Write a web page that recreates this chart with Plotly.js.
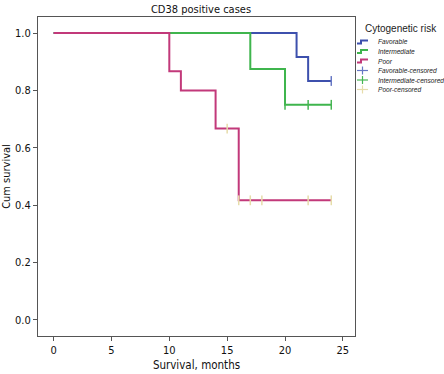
<!DOCTYPE html>
<html>
<head>
<meta charset="utf-8">
<script src="https://cdn.plot.ly/plotly-3.0.1.min.js"></script>
<style>html,body{margin:0;padding:0;background:#fff;}#chart{width:444px;height:374px;}</style>
</head>
<body>
<div id="chart"></div>
<script>
// Kaplan–Meier step data (months, cumulative survival)
const favTime = [0, 21, 22, 24];
const favSurv = [1.0, 0.917, 0.833, 0.833];
const intTime = [0, 17, 20, 24];
const intSurv = [1.0, 0.875, 0.75, 0.75];
const poorTime = [0, 10, 11, 14, 16, 24];
const poorSurv = [1.0, 0.867, 0.8, 0.667, 0.417, 0.417];
// censored observations
const favCensTime = [24];
const favCensSurv = [0.833];
const intCensTime = [20, 22, 24];
const intCensSurv = [0.75, 0.75, 0.75];
const poorCensTime = [15, 16, 17, 18, 22, 24];
const poorCensSurv = [0.667, 0.417, 0.417, 0.417, 0.417, 0.417];
// labels
const seriesNames = ["Favorable", "Intermediate", "Poor", "Favorable-censored", "Intermediate-censored", "Poor-censored"];
const legendTitle = "Cytogenetic risk";
const xTicks = [0, 5, 10, 15, 20, 25];
const yTicks = [0.0, 0.2, 0.4, 0.6, 0.8, 1.0];

const colors = ["#3d50ad", "#3fb54d", "#c2397a", "#6677c4", "#45b552", "#e6dcaa"];
const NARROW = "'DejaVu Sans Condensed', 'Liberation Sans Narrow', sans-serif";

function stepTrace(x, y, c, name) {
  return {x: x, y: y, type: "scatter", mode: "lines", name: name,
    line: {shape: "hv", color: c, width: 2}, hoverinfo: "skip"};
}
function censTrace(x, y, c, name) {
  return {x: x, y: y, type: "scatter", mode: "markers", name: name,
    marker: {symbol: "line-ns", size: 7, line: {color: c, width: 1.5}}, hoverinfo: "skip"};
}
const data = [
  stepTrace(favTime, favSurv, colors[0], seriesNames[0]),
  stepTrace(intTime, intSurv, colors[1], seriesNames[1]),
  stepTrace(poorTime, poorSurv, colors[2], seriesNames[2]),
  censTrace(favCensTime, favCensSurv, colors[3], seriesNames[3]),
  censTrace(intCensTime, intCensSurv, colors[4], seriesNames[4]),
  censTrace(poorCensTime, poorCensSurv, colors[5], seriesNames[5])
];

// plot area in pixels
const L = 38, R = 355, T = 17, B = 336;
const px = v => (v - L) / (R - L);
const py = v => (B - v) / (B - T);

const shapes = [], annotations = [];
annotations.push({xref: "paper", yref: "paper", x: px(363), y: py(29), xanchor: "left", yanchor: "middle",
  text: legendTitle, showarrow: false, font: {family: "'Liberation Sans', Arial, sans-serif", size: 10, color: "#222"}});
seriesNames.forEach((n, i) => {
  const yc = 42 + i * 9.5;
  if (i < 3) {
    shapes.push({type: "path", xref: "paper", yref: "paper",
      path: `M ${px(357)} ${py(yc + 1.5)} L ${px(361)} ${py(yc + 1.5)} L ${px(361)} ${py(yc - 1.5)} L ${px(368)} ${py(yc - 1.5)}`,
      line: {color: colors[i], width: 2}});
  } else {
    shapes.push({type: "line", xref: "paper", yref: "paper", x0: px(357), x1: px(368), y0: py(yc), y1: py(yc),
      line: {color: colors[i], width: 1.2}});
    shapes.push({type: "line", xref: "paper", yref: "paper", x0: px(362.5), x1: px(362.5), y0: py(yc - 4), y1: py(yc + 4),
      line: {color: colors[i], width: 1.2}});
  }
  annotations.push({xref: "paper", yref: "paper", x: px(376), y: py(yc), xanchor: "left", yanchor: "middle",
    text: "<i>" + n + "</i>", showarrow: false, font: {family: "'Liberation Sans', Arial, sans-serif", size: 6.6, color: "#222"}});
});

const layout = {
  width: 444, height: 374,
  margin: {l: L, r: 444 - R, t: T, b: 374 - B, pad: 0},
  paper_bgcolor: "#fff", plot_bgcolor: "#fff",
  showlegend: false,
  title: {text: "CD38 positive cases", x: 201 / 444, xanchor: "center", xref: "container",
    y: 1 - 9 / 374, yanchor: "middle", yref: "container",
    font: {family: NARROW, size: 11, color: "#111"}},
  xaxis: {range: [-1.35, 26.05], tickvals: xTicks, ticktext: xTicks.map(String),
    showgrid: false, zeroline: false, showline: true, mirror: true, linecolor: "#555", linewidth: 1,
    ticks: "outside", ticklen: 4, tickcolor: "#555", tickfont: {family: NARROW, size: 11, color: "#111"},
    title: {text: "Survival, months", standoff: 4, font: {family: NARROW, size: 11.5, color: "#111"}}},
  yaxis: {range: [-0.056, 1.056], tickvals: yTicks, tickformat: ".1f",
    showgrid: false, zeroline: false, showline: true, mirror: true, linecolor: "#555", linewidth: 1,
    ticks: "outside", ticklen: 4, tickcolor: "#555", tickfont: {family: NARROW, size: 11, color: "#111"},
    title: {text: "Cum survival", standoff: 4, font: {family: NARROW, size: 11, color: "#111"}}},
  shapes: shapes, annotations: annotations
};
Plotly.newPlot("chart", data, layout, {staticPlot: true, displayModeBar: false});
</script>
</body>
</html>
